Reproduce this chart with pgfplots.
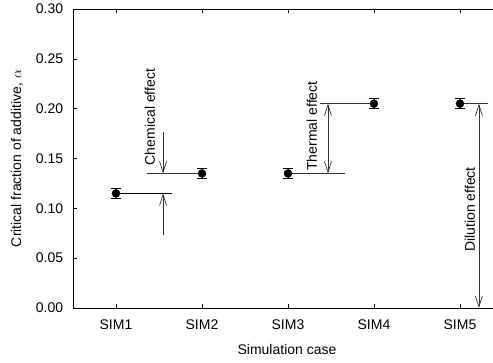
\documentclass[border=0pt]{standalone}
\usepackage{pgfplots}
\pgfplotsset{compat=1.18}
\usepackage{fontspec}
\setmainfont{Liberation Sans}
\usetikzlibrary{arrows.meta}
\begin{document}
\fontsize{14}{16}\selectfont
\begin{tikzpicture}
\begin{axis}[
  scale only axis,
  width=420pt, height=299pt,
  xmin=0.5, xmax=5.384, ymin=0, ymax=0.3,
  axis x line*=box, axis y line*=left,
  axis line style={line width=0.9pt},
  tick align=inside,
  major tick length=4pt,
  tick style={line width=0.6pt, black},
  xtick={1,2,3,4,5},
  xticklabels={SIM1,SIM2,SIM3,SIM4,SIM5},
  xtick pos=both,
  ytick={0,0.05,0.1,0.15,0.2,0.25,0.3},
  ytick pos=left,
  /pgf/number format/assume math mode=true,
  yticklabel style={/pgf/number format/fixed, /pgf/number format/fixed zerofill, /pgf/number format/precision=2, xshift=-5pt},
  ticklabel style={font=\fontsize{14}{16}\selectfont},
  xticklabel style={yshift=-7pt},
  xlabel={Simulation case},
  ylabel={Critical fraction of additive, $\alpha$},
  label style={font=\fontsize{14}{16}\selectfont},
  xlabel style={at={(axis description cs:0.5095,0)}, anchor=base, yshift=-46pt},
  ylabel style={at={(axis description cs:-0.1333,0.5)}, anchor=center},
  clip=false,
]
\addplot[only marks, mark=*, mark size=4pt, black,
  error bars/.cd, y dir=both, y explicit,
  error bar style={line width=0.8pt, black},
  error mark options={rotate=90, mark size=5pt, line width=0.8pt, black}]
  coordinates {
  (1,0.115) +- (0,0.005)
  (2,0.135) +- (0,0.005)
  (3,0.135) +- (0,0.005)
  (4,0.205) +- (0,0.005)
  (5,0.205) +- (0,0.005)
};
% horizontal reference lines
\addplot[black, line width=0.8pt] coordinates {(1,0.115) (1.65,0.115)};
\addplot[black!80, line width=0.8pt] coordinates {(1.36,0.135) (2,0.135)};
\addplot[black!80, line width=0.8pt] coordinates {(3,0.135) (3.66,0.135)};
\addplot[black!80, line width=0.8pt] coordinates {(3.37,0.205) (4,0.205)};
\addplot[black!80, line width=0.8pt] coordinates {(5,0.205) (5.33,0.205)};
% arrows
\draw[black!80, line width=0.7pt, -{Straight Barb[length=11pt, width=7pt]}] (axis cs:1.547,0.0735) -- (axis cs:1.547,0.115);
\draw[black!80, line width=0.7pt, -{Straight Barb[length=11pt, width=7pt]}] (axis cs:1.547,0.1765) -- (axis cs:1.547,0.135);
\draw[black!80, line width=0.7pt, {Straight Barb[length=11pt, width=7pt]}-{Straight Barb[length=11pt, width=7pt]}] (axis cs:3.465,0.135) -- (axis cs:3.465,0.205);
\draw[black!80, line width=0.7pt, {Straight Barb[length=11pt, width=7pt]}-{Straight Barb[length=11pt, width=7pt]}] (axis cs:5.22,0) -- (axis cs:5.22,0.205);
% labels
\node[rotate=90, anchor=base, inner sep=0pt] at (axis cs:1.453,0.1916) {Chemical effect};
\node[rotate=90, anchor=base, inner sep=0pt] at (axis cs:3.337,0.1826) {Thermal effect};
\node[rotate=90, anchor=base, inner sep=0pt] at (axis cs:5.174,0.0988) {Dilution effect};
\end{axis}
\pgfresetboundingbox
\path[use as bounding box] ([shift={(-73pt,-54pt)}]current axis.south west) rectangle ([shift={(0pt,9pt)}]current axis.north east);
\end{tikzpicture}
\end{document}
